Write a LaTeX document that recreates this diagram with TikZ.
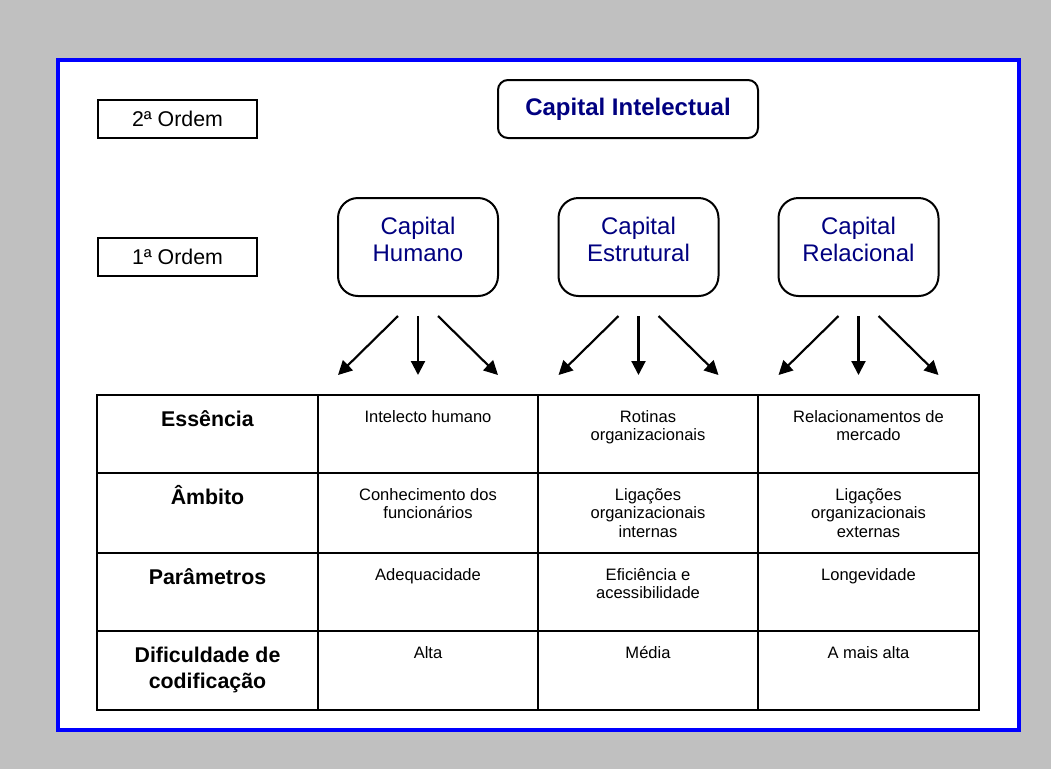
\documentclass[tikz,border=0pt]{standalone}
\usepackage{fontspec}
\setmainfont{Liberation Sans}
\usetikzlibrary{arrows.meta,calc}
\definecolor{pagegray}{RGB}{192,192,192}
\definecolor{frameblue}{RGB}{0,0,255}
\definecolor{capnavy}{RGB}{0,0,128}
% invisible rule that fixes the height of a first text line
\newcommand\tbheadroom[1]{\rule{0pt}{#1}}

\begin{document}
\begin{tikzpicture}[x=0.75pt,y=-0.75pt,
  ordbox/.style={draw,line width=1.5pt,minimum width=119pt,minimum height=28.5pt,
    inner sep=0pt,font=\fontsize{16}{19}\selectfont},
  topbox/.style={draw,line width=1.5pt,rounded corners=7.5pt,minimum width=195pt,
    minimum height=43.5pt,inner sep=0pt,text=capnavy,font=\bfseries\fontsize{18}{21}\selectfont},
  capbox/.style={draw,line width=1.5pt,rounded corners=15pt,minimum width=120pt,
    minimum height=73.5pt,inner sep=0pt},
  captext/.style={anchor=north,align=center,inner sep=0pt,text=capnavy,
    font=\fontsize{18}{20}\selectfont},
  splitarrow/.style={line width=1.6pt,-{Triangle[length=10.5pt,width=10.5pt]}},
  rowlabel/.style={anchor=north,align=center,inner sep=0pt,
    font=\bfseries\fontsize{16}{20}\selectfont},
  celltext/.style={anchor=north,align=center,inner sep=0pt,
    font=\fontsize{12.4}{14}\selectfont},
  gridline/.style={line width=1.5pt}
]
% page and frame
\fill[pagegray] (0,0) rectangle (1051,769);
\draw[frameblue,line width=3pt,fill=white] (58,60) rectangle (1019,730);

% order labels
\node[ordbox] (ord2) at (177.5,119) {2ª Ordem};
\node[ordbox] (ord1) at (177.5,257) {1ª Ordem};

% second order
\node[topbox] (ci) at (628,109) {Capital Intelectual};

% first order
\node[capbox] (ch) at (418,247) {};
\node[capbox] (ce) at (638.5,247) {};
\node[capbox] (cr) at (858.5,247) {};
\node[captext] (ch-t) at ($(ch.north)+(0,14.6)$) {\tbheadroom{17pt}Capital\\Humano};
\node[captext] (ce-t) at ($(ce.north)+(0,14.6)$) {\tbheadroom{17pt}Capital\\Estrutural};
\node[captext] (cr-t) at ($(cr.north)+(0,14.6)$) {\tbheadroom{17pt}Capital\\Relacional};

% arrows fanning out under each component
\foreach \b in {ch,ce,cr} {
  \coordinate (\b-sl) at ($(\b.south)+(-20,19)$);
  \coordinate (\b-sm) at ($(\b.south)+(0,19)$);
  \coordinate (\b-sr) at ($(\b.south)+(20,19)$);
  \coordinate (\b-el) at ($(\b.south)+(-80,78)$);
  \coordinate (\b-em) at ($(\b.south)+(0,78)$);
  \coordinate (\b-er) at ($(\b.south)+(80,78)$);
  \draw[splitarrow] (\b-sl) -- (\b-el);
  \draw[splitarrow] (\b-sm) -- (\b-em);
  \draw[splitarrow] (\b-sr) -- (\b-er);
}

% table grid
\draw[gridline] (97,395) rectangle (979,710);
\foreach \x in {318,538,758} \draw[gridline] (\x,395) -- (\x,710);
\foreach \y in {473,553,631} \draw[gridline] (97,\y) -- (979,\y);

% row labels
\node[rowlabel] (l-ess) at (207.5,406) {\tbheadroom{15pt}Essência};
\node[rowlabel] (l-amb) at (207.5,484) {\tbheadroom{15pt}Âmbito};
\node[rowlabel] (l-par) at (207.5,564) {\tbheadroom{15pt}Parâmetros};
\node[rowlabel] (l-dif) at (207.5,642) {\tbheadroom{15pt}Dificuldade de\\codificação};

% cells
\node[celltext] (ess-h) at (428,407.3) {\tbheadroom{11pt}Intelecto humano};
\node[celltext] (ess-e) at (648,407.3) {\tbheadroom{11pt}Rotinas\\organizacionais};
\node[celltext] (ess-r) at (868.5,407.3) {\tbheadroom{11pt}Relacionamentos de\\mercado};

\node[celltext] (amb-h) at (428,485.3) {\tbheadroom{11pt}Conhecimento dos\\funcionários};
\node[celltext] (amb-e) at (648,485.3) {\tbheadroom{11pt}Ligações\\organizacionais\\internas};
\node[celltext] (amb-r) at (868.5,485.3) {\tbheadroom{11pt}Ligações\\organizacionais\\externas};

\node[celltext] (par-h) at (428,565.3) {\tbheadroom{11pt}Adequacidade};
\node[celltext] (par-e) at (648,565.3) {\tbheadroom{11pt}Eficiência e\\acessibilidade};
\node[celltext] (par-r) at (868.5,565.3) {\tbheadroom{11pt}Longevidade};

\node[celltext] (dif-h) at (428,643.3) {\tbheadroom{11pt}Alta};
\node[celltext] (dif-e) at (648,643.3) {\tbheadroom{11pt}Média};
\node[celltext] (dif-r) at (868.5,643.3) {\tbheadroom{11pt}A mais alta};
\end{tikzpicture}
\end{document}
